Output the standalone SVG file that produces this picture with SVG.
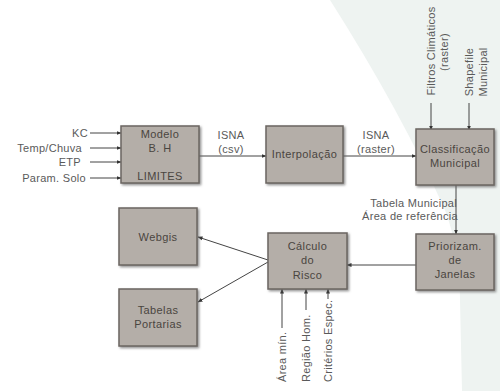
<svg xmlns="http://www.w3.org/2000/svg" width="500" height="391" viewBox="0 0 500 391">
<defs>
<marker id="ah" viewBox="0 0 10 10" refX="9" refY="5" markerWidth="5" markerHeight="5" orient="auto" markerUnits="userSpaceOnUse">
<path d="M0,1 L10,5 L0,9 Z" fill="#333"/>
</marker>
<filter id="sh" x="-10%" y="-10%" width="130%" height="130%">
<feDropShadow dx="1.5" dy="1.5" stdDeviation="0.8" flood-color="#666" flood-opacity="0.7"/>
</filter>
</defs>
<style>
.box{fill:#b4aea8;stroke:#6b6661;stroke-width:1.5;filter:url(#sh)}
.bt{font-family:"Liberation Sans",Arial,sans-serif;font-size:11px;letter-spacing:0.4px;fill:#4a4540;text-anchor:middle}
.lt{font-family:"Liberation Sans",Arial,sans-serif;font-size:11px;letter-spacing:0.3px;fill:#5a5a5a}
.c{stroke:#444;stroke-width:1;fill:none;marker-end:url(#ah)}
</style>
<rect width="500" height="391" fill="#ffffff"/>
<path d="M330,0 Q400,110 445,210 Q460,250 460,300 L462,391 L500,391 L500,0 Z" fill="#eef3f1"/>

<g id="connectors">
<line class="c" x1="90" y1="133" x2="121" y2="133"/>
<line class="c" x1="90" y1="148" x2="121" y2="148"/>
<line class="c" x1="90" y1="162" x2="121" y2="162"/>
<line class="c" x1="90" y1="178" x2="121" y2="178"/>
<line class="c" x1="199" y1="156" x2="266" y2="156"/>
<line class="c" x1="343" y1="156" x2="416" y2="156"/>
<line class="c" x1="431" y1="103" x2="431" y2="130"/>
<line class="c" x1="469" y1="103" x2="469" y2="130"/>
<line class="c" x1="456" y1="185" x2="456" y2="234"/>
<line class="c" x1="416" y1="265" x2="347" y2="265"/>
<line class="c" x1="268" y1="260" x2="198" y2="237"/>
<line class="c" x1="268" y1="262" x2="198" y2="302"/>
<line class="c" x1="282" y1="328" x2="282" y2="289"/>
<line class="c" x1="306" y1="310" x2="306" y2="289"/>
<line class="c" x1="328" y1="299" x2="328" y2="289"/>
</g>

<g id="labels">
<text class="lt" x="88" y="137" text-anchor="end">KC</text>
<text class="lt" x="82" y="152" text-anchor="end">Temp/Chuva</text>
<text class="lt" x="81" y="166" text-anchor="end">ETP</text>
<text class="lt" x="86" y="182" text-anchor="end">Param. Solo</text>
<text class="lt" x="231" y="139" text-anchor="middle">ISNA</text>
<text class="lt" x="231" y="153" text-anchor="middle">(csv)</text>
<text class="lt" x="376" y="139" text-anchor="middle">ISNA</text>
<text class="lt" x="376" y="153" text-anchor="middle">(raster)</text>
<text class="lt" x="457" y="207" text-anchor="end">Tabela Municipal</text>
<text class="lt" x="458" y="220" text-anchor="end">Área de referência</text>
<text class="lt" transform="translate(435,51) rotate(-90)" text-anchor="middle">Filtros Climáticos</text>
<text class="lt" transform="translate(448,52) rotate(-90)" text-anchor="middle">(raster)</text>
<text class="lt" transform="translate(473,72) rotate(-90)" text-anchor="middle">Shapefile</text>
<text class="lt" transform="translate(487,72) rotate(-90)" text-anchor="middle">Municipal</text>
<text class="lt" transform="translate(286,382) rotate(-90)">Área mín.</text>
<text class="lt" transform="translate(310,382) rotate(-90)">Região Hom.</text>
<text class="lt" transform="translate(332,382) rotate(-90)">Critérios Espec.</text>
</g>

<g id="modelo">
<rect class="box" x="121" y="126" width="78" height="57"/>
<text class="bt" x="160" y="138">Modelo</text>
<text class="bt" x="160" y="152">B. H</text>
<text class="bt" x="160" y="180">LIMITES</text>
</g>
<g id="interpolacao">
<rect class="box" x="266" y="126" width="77" height="57"/>
<text class="bt" x="304.5" y="158">Interpolação</text>
</g>
<g id="classificacao">
<rect class="box" x="416" y="129" width="78" height="56"/>
<text class="bt" x="455" y="153">Classificação</text>
<text class="bt" x="455" y="167">Municipal</text>
</g>
<g id="priorizacao">
<rect class="box" x="416" y="234" width="78" height="56"/>
<text class="bt" x="455" y="250">Priorizam.</text>
<text class="bt" x="455" y="264">de</text>
<text class="bt" x="455" y="278">Janelas</text>
</g>
<g id="calculo">
<rect class="box" x="268" y="233" width="79" height="56"/>
<text class="bt" x="307.5" y="250">Cálculo</text>
<text class="bt" x="307.5" y="264">do</text>
<text class="bt" x="307.5" y="279">Risco</text>
</g>
<g id="webgis">
<rect class="box" x="119" y="208" width="78" height="57"/>
<text class="bt" x="158" y="241">Webgis</text>
</g>
<g id="tabelas">
<rect class="box" x="119" y="289" width="78" height="57"/>
<text class="bt" x="158" y="314">Tabelas</text>
<text class="bt" x="158" y="328">Portarias</text>
</g>
</svg>
